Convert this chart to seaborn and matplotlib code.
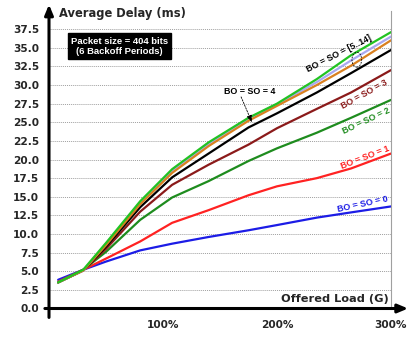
import numpy as np
import pandas as pd
import matplotlib
matplotlib.use("Agg")
import matplotlib.pyplot as plt
import seaborn as sns
from matplotlib.patches import Ellipse

# ---- data ----
load = [0.08, 0.3, 0.5, 0.8, 1.08, 1.4, 1.75, 2.0, 2.35, 2.65, 3.0]
delay_bo0 = [3.85, 5.2, 6.3, 7.8, 8.7, 9.6, 10.5, 11.2, 12.2, 12.9, 13.7]
delay_bo1 = [3.6, 5.2, 6.7, 9.0, 11.5, 13.2, 15.2, 16.4, 17.5, 18.8, 20.8]
delay_bo2 = [3.5, 5.2, 7.6, 11.9, 14.9, 17.1, 19.8, 21.5, 23.6, 25.6, 28.0]
delay_bo3 = [3.5, 5.1, 8.0, 13.0, 16.6, 19.3, 22.0, 24.2, 26.8, 29.0, 32.0]
delay_bo4 = [3.5, 5.1, 8.3, 13.6, 17.6, 20.8, 24.3, 26.2, 29.0, 31.6, 34.7]
delay_bo5_lav = [3.5, 5.1, 8.7, 14.2, 18.5, 22.1, 25.5, 27.4, 30.4, 33.3, 36.5]
delay_bo5_grn = [3.5, 5.2, 8.8, 14.4, 18.7, 22.3, 25.6, 27.5, 30.8, 34.0, 37.1]
delay_bo5_org = [3.5, 5.1, 8.5, 14.0, 18.2, 21.8, 25.2, 27.2, 30.0, 32.6, 36.0]

series = {
    "BO0": delay_bo0, "BO1": delay_bo1, "BO2": delay_bo2, "BO3": delay_bo3,
    "BO4": delay_bo4, "BO5a": delay_bo5_lav, "BO5b": delay_bo5_org, "BO5c": delay_bo5_grn,
}
palette = {
    "BO0": "#1c1ce6", "BO1": "#ff2222", "BO2": "#1e8c1e", "BO3": "#8b1a1a",
    "BO4": "#000000", "BO5a": "#a8a8f0", "BO5b": "#d98020", "BO5c": "#22c322",
}

x_ticks = [1, 2, 3]
x_ticklabels = ["100%", "200%", "300%"]
y_ticks = [0.0, 2.5, 5.0, 7.5, 10.0, 12.5, 15.0, 17.5, 20.0, 22.5, 25.0, 27.5, 30.0, 32.5, 35.0, 37.5]

rows = []
for name, vals in series.items():
    for g, v in zip(load, vals):
        rows.append({"G": g, "delay": v, "series": name})
df = pd.DataFrame(rows)

sns.set_style("white")
plt.rcParams["font.family"] = ["DejaVu Sans"]

fig = plt.figure(figsize=(4.09, 3.42), dpi=100)
ax = fig.add_axes([49 / 409, (342 - 308.5) / 342, 342 / 409, 298 / 342])

sns.lineplot(data=df, x="G", y="delay", hue="series", palette=palette,
             hue_order=list(series.keys()), linewidth=1.6, legend=False, ax=ax,
             sort=True)

ax.set_xlim(0, 3.0)
ax.set_ylim(0, 40)

# grid
for yv in y_ticks[1:]:
    ax.axhline(yv, color="#a0a0a0", linestyle=(0, (1, 1)), linewidth=0.7, zorder=0)

# spines
for s in ["top", "left", "bottom"]:
    ax.spines[s].set_visible(False)
ax.spines["right"].set_color("#a0a0a0")
ax.spines["right"].set_linewidth(0.8)

# axis arrows
ax.annotate("", xy=(1.05, 0), xytext=(-0.012, 0), xycoords="axes fraction",
            arrowprops=dict(arrowstyle="-|>,head_length=0.6,head_width=0.25",
                            color="black", lw=2.2, shrinkA=0, shrinkB=0), annotation_clip=False)
ax.annotate("", xy=(0, 1.02), xytext=(0, -0.03), xycoords="axes fraction",
            arrowprops=dict(arrowstyle="-|>,head_length=0.6,head_width=0.25",
                            color="black", lw=2.2, shrinkA=0, shrinkB=0), annotation_clip=False)

ax.set_xticks(x_ticks)
ax.set_xticklabels(x_ticklabels)
ax.set_yticks(y_ticks)
ax.set_yticklabels([f"{v:.1f}" for v in y_ticks])
ax.tick_params(axis="x", direction="out", length=4, width=1, color="#808080",
               labelsize=7.6, pad=4)
ax.tick_params(axis="y", direction="out", length=4, width=1.2, color="black",
               labelsize=7.6, pad=3)
for lab in ax.get_xticklabels() + ax.get_yticklabels():
    lab.set_fontweight("bold")
ax.set_xlabel("")
ax.set_ylabel("")

# axis titles
fig.text(59 / 409, 1 - 14 / 342, "Average Delay (ms)", fontsize=8.3, fontweight="bold",
         ha="left", va="center")
fig.text(389 / 409, 1 - 298.5 / 342, "Offered Load (G)", fontsize=8.2, fontweight="bold",
         ha="right", va="center")

# info box
ax.text(0.618, 35.2, "Packet size = 404 bits\n(6 Backoff Periods)", color="white",
        fontsize=6.8, fontweight="bold", ha="center", va="center", family="Liberation Sans",
        linespacing=1.15,
        bbox=dict(boxstyle="square,pad=0.35", facecolor="black", edgecolor="black"))

lab_kw = dict(fontsize=6.4, fontweight="bold", family="Liberation Sans",
              ha="center", va="center", rotation_mode="anchor")
ax.text(2.75, 14.05, "BO = SO = 0", color="#1c1ce6", rotation=12, **lab_kw)
ax.text(2.77, 20.3, "BO = SO = 1", color="#ff2222", rotation=21, **lab_kw)
ax.text(2.78, 25.2, "BO = SO = 2", color="#1e8c1e", rotation=25, **lab_kw)
ax.text(2.77, 28.8, "BO = SO = 3", color="#8b1a1a", rotation=29, **lab_kw)
ax.text(2.545, 34.2, "BO = SO = [5..14]", color="black", rotation=27, **lab_kw)
ax.text(1.763, 29.1, "BO = SO = 4", color="black", fontsize=6.4, fontweight="bold",
        family="Liberation Sans", ha="center", va="center")
ax.annotate("", xy=(1.78, 25.0), xytext=(1.685, 28.4),
            arrowprops=dict(arrowstyle="-|>,head_length=0.4,head_width=0.15",
                            color="black", lw=0.6, linestyle=(0, (2, 1.5)),
                            shrinkA=0, shrinkB=0))
ax.add_patch(Ellipse((2.70, 33.4), 0.085, 2.0, fill=False, edgecolor="black",
                     linewidth=0.6, linestyle=(0, (2, 1.5)), zorder=5))

fig.savefig("out.png", dpi=100, facecolor="white")
